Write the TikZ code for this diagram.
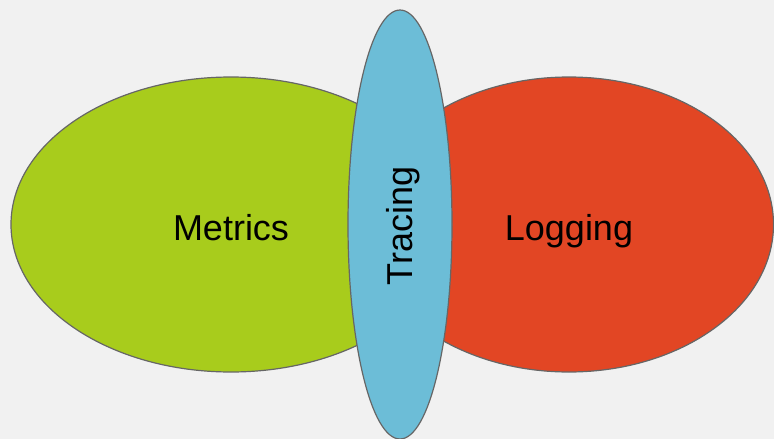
\documentclass[tikz,border=0pt]{standalone}
\usepackage{fontspec}
\setmainfont{Liberation Sans}
\definecolor{bggray}{HTML}{F1F1F1}
\definecolor{metricsgreen}{HTML}{A8CC1C}
\definecolor{loggingred}{HTML}{E24624}
\definecolor{tracingblue}{HTML}{6CBDD7}
\definecolor{rimgray}{HTML}{666666}
\begin{document}
\begin{tikzpicture}[x=1pt, y=-1pt, line join=round, line cap=round,
  blob/.style={draw=rimgray, line width=1.2pt},
  word/.style={font=\fontsize{36}{40}\selectfont, text=black}]
\fill[bggray] (0,0) rectangle (774,439);
\useasboundingbox (0,0) rectangle (774,439);
% Kreise
\filldraw[blob, fill=metricsgreen] (231,224.5) ellipse [x radius=220, y radius=147.5];
\filldraw[blob, fill=loggingred] (569,224.5) ellipse [x radius=204.5, y radius=147.5];
\filldraw[blob, fill=tracingblue] (400,224.5) ellipse [x radius=52, y radius=214.5];
% Beschriftung
\node[word, anchor=base] (metrics) at (231,240.5) {Metrics};
\node[word, anchor=base] (logging) at (569,240.5) {Logging};
\node[word, rotate=90] (tracing) at (403,226) {Tracing};
\end{tikzpicture}
\end{document}
